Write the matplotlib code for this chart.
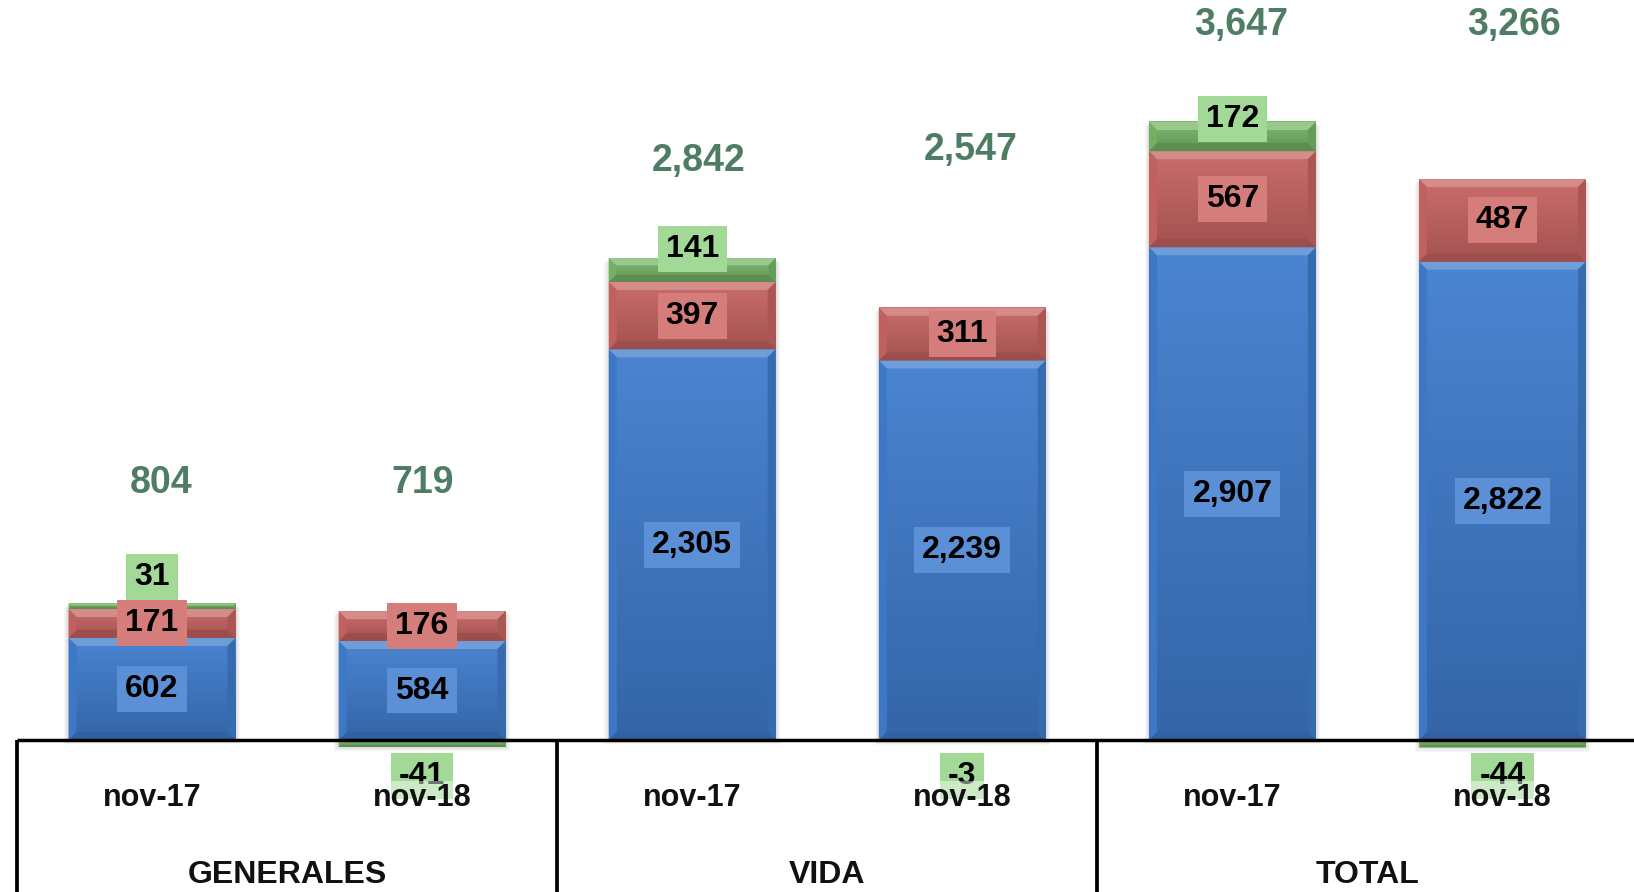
import numpy as np
import matplotlib.pyplot as plt
from matplotlib.patches import Rectangle, Polygon
from matplotlib.colors import to_rgb

plt.rcParams['font.family'] = ['Liberation Sans', 'DejaVu Sans']

# data
categories = ["nov-17", "nov-18", "nov-17", "nov-18", "nov-17", "nov-18"]
groups = ["GENERALES", "VIDA", "TOTAL"]
blue_vals = [602, 584, 2305, 2239, 2907, 2822]
red_vals = [171, 176, 397, 311, 567, 487]
green_vals = [31, -41, 141, -3, 172, -44]
totals = [804, 719, 2842, 2547, 3647, 3266]

# layout
PX_X = 270.1          # pixels per category step
PX_Y = 0.1695         # pixels per data unit
W = 0.618             # bar width
Y_TOP, Y_BOT = 740 / PX_Y, -(892 - 740) / PX_Y
X_LEFT, X_RIGHT = -152 / PX_X, (1634 - 152) / PX_X
total_label_y = [1519, 1519, 3413, 3481, 4218, 4218]
total_label_dx = [9, 1, 6, 8, 9, 11]  # px right of bar centre
green_label_up = [27, 0, 9, 0, 3, 0]  # px above segment top

BLUE, RED, GREEN = "#3f7ccd", "#c76462", "#77b567"
BOX = {BLUE: "#5b8fd6", RED: "#d47d7b", GREEN: "#a3d997"}


def mix(c, other, t):
    c, o = np.array(to_rgb(c)), np.array(to_rgb(other))
    return tuple(c + (o - c) * t)


def draw_segment(ax, x, y0, h, color):
    x0, x1 = x - W / 2, x + W / 2
    ya, yb = min(y0, y0 + h), max(y0, y0 + h)
    # soft shadow
    for k in range(1, 5):
        ax.add_patch(Rectangle((x0 - 0.004 * k, ya - 6 * k), W + 0.008 * k, yb - ya,
                               fc="black", ec="none", alpha=0.03, zorder=1))
    # face gradient
    rows = np.linspace(0, 1, 40)[:, None]
    top = np.array(mix(color, "white", 0.06))
    bot = np.array(mix(color, "black", 0.18))
    grad = (top + (bot - top) * rows)[:, None, :]
    ax.imshow(grad, extent=(x0, x1, ya, yb), aspect="auto", origin="upper",
              interpolation="bilinear", zorder=2)
    # bevel
    by = min(8 / PX_Y, (yb - ya) * 0.3)
    bx = by * PX_Y / PX_X
    polys = [
        ([(x0, yb), (x1, yb), (x1 - bx, yb - by), (x0 + bx, yb - by)], mix(color, "white", 0.25)),
        ([(x0, ya), (x1, ya), (x1 - bx, ya + by), (x0 + bx, ya + by)], mix(color, "black", 0.22)),
        ([(x0, ya), (x0 + bx, ya + by), (x0 + bx, yb - by), (x0, yb)], mix(color, "black", 0.03)),
        ([(x1, ya), (x1 - bx, ya + by), (x1 - bx, yb - by), (x1, yb)], mix(color, "black", 0.14)),
    ]
    for pts, c in polys:
        ax.add_patch(Polygon(pts, closed=True, fc=c, ec="none", zorder=3))


def value_label(ax, x, y, val, color):
    ax.text(x, y, f"{val:,}", ha="center", va="center", fontsize=23, fontweight="bold",
            color="black", zorder=6,
            bbox=dict(boxstyle="square,pad=0.25", fc=BOX[color], ec="none"))


fig = plt.figure(figsize=(16.34, 8.92), dpi=100)
ax = fig.add_axes([0, 0, 1, 1])
ax.axis("off")

xs = np.arange(len(categories))
for i, x in enumerate(xs):
    b, r, g = blue_vals[i], red_vals[i], green_vals[i]
    draw_segment(ax, x, 0, b, BLUE)
    draw_segment(ax, x, b, r, RED)
    if g >= 0:
        draw_segment(ax, x, b + r, g, GREEN)
    else:
        draw_segment(ax, x, 0, g, GREEN)

    value_label(ax, x, b / 2, b, BLUE)
    value_label(ax, x, b + r / 2, r, RED)
    if g >= 0:
        value_label(ax, x, b + r + g + green_label_up[i] / PX_Y, g, GREEN)
    else:
        value_label(ax, x, -36 / PX_Y, g, GREEN)

    ax.text(x + total_label_dx[i] / PX_X, total_label_y[i], f"{totals[i]:,}",
            ha="center", va="center", fontsize=27, fontweight="bold",
            color="#4e7d64", zorder=6)

    ax.text(x, -58 / PX_Y, categories[i], ha="center", va="center", fontsize=22,
            fontweight="bold", color="#111111", zorder=7,
            bbox=dict(boxstyle="square,pad=0.05", fc="white", ec="none", alpha=0.45))

# category table lines
ax.plot([-0.5, X_RIGHT + 1], [0, 0], color="black", lw=2.5, zorder=5, solid_capstyle="butt")
for bnd in [-0.5, 1.5, 3.5]:
    ax.plot([bnd, bnd], [0, Y_BOT - 100], color="black", lw=2.7, zorder=5, solid_capstyle="butt")

for j, grp in enumerate(groups):
    ax.text(2 * j + 0.5, -135 / PX_Y, grp, ha="center", va="center", fontsize=23,
            fontweight="bold", color="#111111")

ax.set_xlim(X_LEFT, X_RIGHT)
ax.set_ylim(Y_BOT, Y_TOP)

fig.savefig("out.png", dpi=100)
plt.close(fig)
